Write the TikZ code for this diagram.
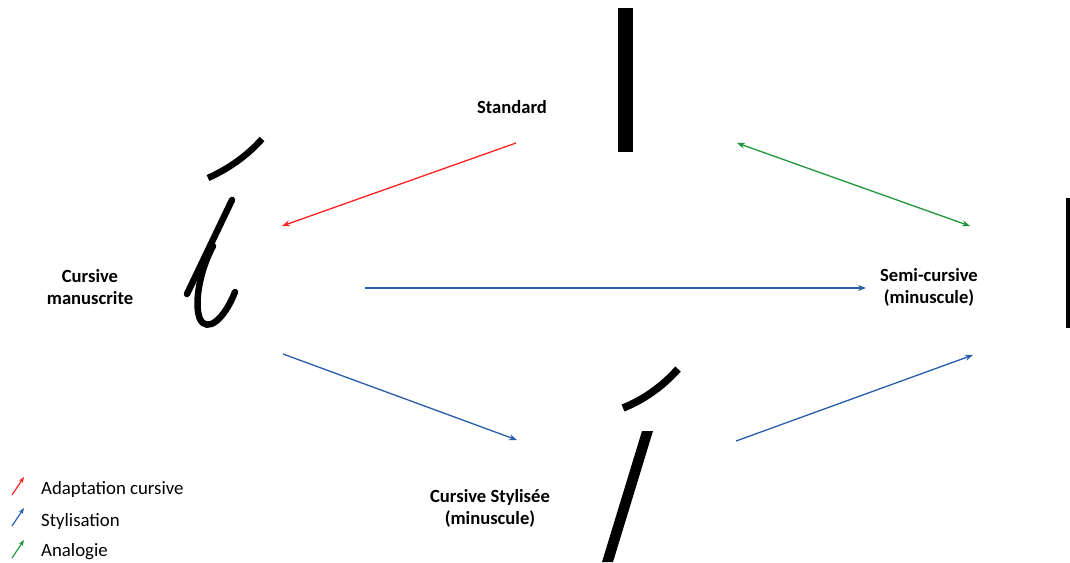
\documentclass[tikz,border=0pt]{standalone}
\usepackage{fontspec}
\setmainfont{Carlito}
\usetikzlibrary{arrows.meta}
\definecolor{cred}{RGB}{255,32,32}
\definecolor{cblue}{RGB}{40,92,172}
\definecolor{cgreen}{RGB}{30,150,60}
\tikzset{
  lbl/.style={font=\fontsize{18.6}{21.8}\selectfont\bfseries, align=center, inner sep=0pt},
  leg/.style={font=\fontsize{18.8}{21.8}\selectfont, anchor=west, inner sep=0pt},
  conn/.style={line width=1.3pt, -{Stealth[length=8pt,width=6pt]}},
  dconn/.style={line width=1.3pt, {Stealth[length=8pt,width=6pt]}-{Stealth[length=8pt,width=6pt]}},
  legarr/.style={line width=1.2pt, -{Stealth[length=6pt,width=4.5pt]}},
  glyph/.style={line width=6.5pt, black},
}
\begin{document}
\begin{tikzpicture}[x=1pt,y=-1pt]
\useasboundingbox (0,0) rectangle (1070,562);

% text nodes
\node[lbl] (std) at (512,107) {Standard};
\node[lbl] (cm) at (90,287) {Cursive\\manuscrite};
\node[lbl] (sc) at (929,287) {Semi-cursive\\(minuscule)};
\node[lbl] (cs) at (490,508) {Cursive Stylisée\\(minuscule)};

% glyphs
\fill[black] (618,8) rectangle (633,152);
\fill[black] (1066,198) rectangle (1070,328);
% cursive i
\draw[glyph, line cap=butt] (208,178) .. controls (228,169) and (247,156) .. (262,139);
\draw[glyph, line cap=round] (232,200) -- (187,294);
\draw[glyph, line cap=round] (213,246) .. controls (199,272) and (194,305) .. (200,319)
  .. controls (207,333) and (224,320) .. (235,292);
% stylised i
\draw[line width=7.5pt, line cap=butt] (623,408) .. controls (643,400) and (662,387) .. (678,369);
\fill[black] (642,431) -- (653,431) -- (613,562) -- (602,562) -- cycle;

% connector endpoints
\coordinate (a1) at (516,143); \coordinate (a2) at (282,226);
\coordinate (g1) at (737,143); \coordinate (g2) at (970,226);
\coordinate (b1) at (365,288); \coordinate (b2) at (866,288);
\coordinate (c1) at (283,354); \coordinate (c2) at (517,440);
\coordinate (d1) at (736,441); \coordinate (d2) at (973,355);

\draw[conn, cred] (a1) -- (a2);
\draw[dconn, cgreen] (g1) -- (g2);
\draw[conn, cblue] (b1) -- (b2);
\draw[conn, cblue] (c1) -- (c2);
\draw[conn, cblue] (d1) -- (d2);

% legend
\coordinate (l1s) at (12,495); \coordinate (l1e) at (24,477);
\coordinate (l2s) at (12,526); \coordinate (l2e) at (24,508);
\coordinate (l3s) at (12,558); \coordinate (l3e) at (24,540);
\draw[legarr, cred] (l1s) -- (l1e);
\draw[legarr, cblue] (l2s) -- (l2e);
\draw[legarr, cgreen] (l3s) -- (l3e);
\node[leg] (t1) at (41,489) {Adaptation cursive};
\node[leg] (t2) at (41,521) {Stylisation};
\node[leg] (t3) at (41,552) {Analogie};
\end{tikzpicture}
\end{document}
